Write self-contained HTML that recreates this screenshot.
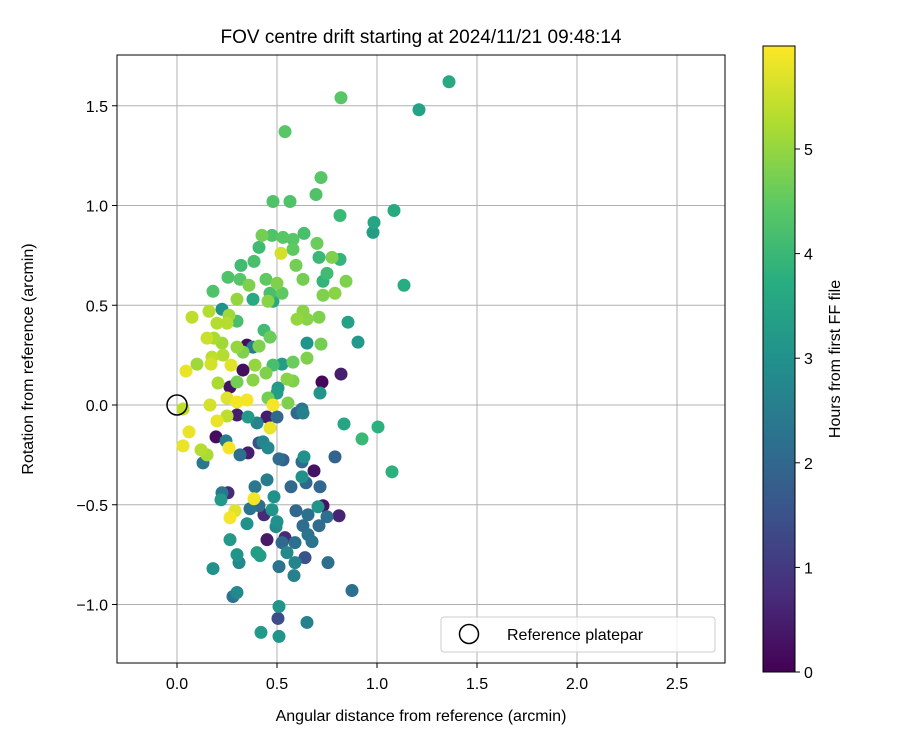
<!DOCTYPE html>
<html><head><meta charset="utf-8"><style>
html,body{margin:0;padding:0;background:#fff;}
svg{display:block;font-family:"Liberation Sans","DejaVu Sans",sans-serif;}
</style></head><body>
<svg id="chart" width="900" height="750" viewBox="0 0 900 750" xmlns="http://www.w3.org/2000/svg">
<defs>
<linearGradient id="vir" x1="0" y1="1" x2="0" y2="0">
<stop offset="0" stop-color="#440154"/><stop offset="0.125" stop-color="#472d7b"/><stop offset="0.25" stop-color="#3b528b"/><stop offset="0.375" stop-color="#2c728e"/><stop offset="0.5" stop-color="#21918c"/><stop offset="0.625" stop-color="#28ae80"/><stop offset="0.75" stop-color="#5ec962"/><stop offset="0.875" stop-color="#addc30"/><stop offset="1" stop-color="#fde725"/>
</linearGradient>
<clipPath id="clip"><rect x="117" y="55" width="608" height="608"/></clipPath>
</defs>
<text x="421" y="43" text-anchor="middle" font-size="19">FOV centre drift starting at 2024/11/21 09:48:14</text>
<g id="grid"></g>
<g id="points" clip-path="url(#clip)"></g>
<circle id="refmark" r="10" fill="none" stroke="#000" stroke-width="1.5"/>
<rect x="117" y="55" width="608" height="608" fill="none" stroke="#000" stroke-width="1"/>
<g id="xticks"></g>
<g id="yticks"></g>
<text x="421" y="721" text-anchor="middle" font-size="16">Angular distance from reference (arcmin)</text>
<text transform="translate(33,359) rotate(-90)" text-anchor="middle" font-size="16">Rotation from reference (arcmin)</text>
<g>
<rect x="441" y="617" width="274" height="35" rx="3" fill="#fff" fill-opacity="0.8" stroke="#ccc"/>
<circle cx="469" cy="634" r="9.5" fill="none" stroke="#000" stroke-width="1.5"/>
<text x="507" y="640" font-size="16">Reference platepar</text>
</g>
<rect x="763" y="46" width="32" height="626" fill="url(#vir)" stroke="#000" stroke-width="1"/>
<g id="cticks"></g>
<text transform="translate(840,359) rotate(-90)" text-anchor="middle" font-size="16">Hours from first FF file</text>
</svg>
<script>
const xs=[1.36,1.21,0.82,0.54,0.72,0.695,0.48,0.565,1.085,0.815,0.985,0.98,1.135,0.855,0.905,0.835,1.005,0.925,1.075,0.875,
0.425,0.475,0.53,0.58,0.635,0.41,0.52,0.58,0.70,0.71,0.775,0.815,0.385,0.32,0.595,0.75,0.63,0.73,0.845,0.255,0.315,0.445,0.50,0.36,0.18,0.465,0.525,0.30,0.38,0.455,0.48,0.73,0.79,
0.075,0.16,0.225,0.26,0.30,0.20,0.25,0.60,0.63,0.65,0.71,0.435,0.465,0.15,0.185,0.225,0.41,0.65,0.72,0.35,0.38,0.30,0.33,0.175,0.23,0.10,0.17,0.27,0.33,0.39,0.445,0.48,0.525,0.58,0.65,0.045,0.38,0.30,0.205,0.55,0.58,0.505,0.50,0.82,0.725,0.715,0.265,0.25,0.35,0.30,0.455,0.48,0.555,0.165,0.03,0.625,
0.25,0.20,0.30,0.355,0.40,0.45,0.50,0.465,0.60,0.63,0.06,0.03,0.195,0.245,0.26,0.12,0.15,0.13,0.315,0.355,0.41,0.43,0.455,0.51,0.53,0.625,0.635,0.79,0.685,0.625,0.645,0.715,0.57,0.45,0.39,0.255,0.225,0.22,0.385,0.485,0.29,0.265,0.365,0.41,0.435,0.475,0.35,0.50,0.495,0.595,0.655,0.73,0.705,0.75,0.81,0.63,0.71,0.655,0.675,0.59,0.525,0.54,0.45,0.55,0.64,0.59,0.585,0.755,0.51,0.265,0.40,0.415,0.30,0.31,0.18,0.30,0.28,0.51,0.505,0.65,0.42,0.51];
const ys=[1.62,1.48,1.54,1.37,1.14,1.055,1.02,1.02,0.975,0.95,0.915,0.865,0.60,0.415,0.315,-0.095,-0.11,-0.17,-0.335,-0.93,
0.85,0.85,0.84,0.83,0.86,0.79,0.76,0.78,0.81,0.74,0.74,0.73,0.72,0.70,0.70,0.66,0.63,0.62,0.62,0.64,0.63,0.63,0.61,0.60,0.57,0.56,0.56,0.53,0.53,0.52,0.52,0.55,0.56,
0.44,0.47,0.48,0.45,0.42,0.41,0.41,0.43,0.47,0.43,0.44,0.375,0.34,0.335,0.335,0.31,0.295,0.31,0.305,0.30,0.29,0.29,0.265,0.24,0.25,0.205,0.205,0.20,0.175,0.20,0.16,0.20,0.205,0.215,0.235,0.17,0.125,0.115,0.11,0.13,0.12,0.085,0.06,0.155,0.115,0.06,0.09,0.035,0.025,0.015,0.035,0.0,0.01,0.0,-0.02,-0.02,
-0.055,-0.08,-0.05,-0.06,-0.09,-0.06,-0.06,-0.115,-0.04,-0.04,-0.135,-0.205,-0.16,-0.18,-0.215,-0.225,-0.25,-0.29,-0.25,-0.24,-0.19,-0.185,-0.215,-0.27,-0.275,-0.285,-0.26,-0.26,-0.33,-0.36,-0.39,-0.41,-0.41,-0.375,-0.41,-0.44,-0.44,-0.475,-0.47,-0.46,-0.53,-0.565,-0.52,-0.505,-0.55,-0.525,-0.595,-0.585,-0.61,-0.53,-0.55,-0.505,-0.51,-0.56,-0.555,-0.605,-0.605,-0.65,-0.685,-0.69,-0.69,-0.665,-0.675,-0.74,-0.765,-0.79,-0.855,-0.79,-0.81,-0.675,-0.74,-0.755,-0.75,-0.79,-0.82,-0.94,-0.96,-1.01,-1.07,-1.09,-1.14,-1.16];
const hrs=[3.6,3.4,4.4,4.4,4.4,4.3,4.3,4.3,3.6,4.0,3.5,3.3,3.7,3.4,3.2,3.5,3.8,4.0,3.8,2.2,
4.7,4.3,4.4,4.4,4.2,4.1,5.6,4.5,4.6,4.0,4.8,3.9,4.2,4.1,4.7,4.1,4.7,3.9,4.8,4.3,4.4,4.5,4.8,4.8,4.3,4.2,4.5,5.0,3.6,4.9,3.6,4.8,4.9,
5.4,5.3,3.0,5.1,4.2,5.3,5.3,5.0,4.9,4.9,4.8,4.1,4.6,5.5,5.2,5.1,4.8,3.1,4.7,0.2,2.5,5.0,4.8,5.4,5.3,5.1,5.6,5.7,0.2,5.0,4.8,4.2,3.3,4.6,4.8,5.8,4.9,4.7,5.2,4.9,4.8,3.2,3.3,0.5,0.1,3.1,0.3,5.7,5.9,5.9,4.7,5.9,4.8,5.6,5.4,2.3,
5.4,5.8,0.5,3.2,2.7,0.5,2.0,5.8,2.0,2.6,5.8,5.8,0.2,2.5,5.9,5.3,5.2,2.4,2.2,0.5,1.5,2.7,2.8,2.1,1.8,2.1,3.0,1.9,0.3,3.0,2.0,2.0,2.0,2.5,2.4,0.7,2.4,3.2,5.9,3.0,5.7,5.9,2.3,2.1,0.7,3.1,3.0,3.0,2.8,2.0,2.2,0.3,3.1,2.2,0.6,2.1,2.1,2.3,2.3,2.2,2.0,0.7,0.4,2.8,1.5,2.7,2.6,2.2,2.3,3.2,3.3,3.3,3.1,2.8,3.0,2.8,2.3,3.1,1.4,2.6,3.2,3.1];
const xTicks=[0.0,0.5,1.0,1.5,2.0,2.5];
const yTicks=[-1.0,-0.5,0.0,0.5,1.0,1.5];
const cTicks=[0,1,2,3,4,5];
const X=v=>177+v*200, Y=v=>405-v*199.5, C=v=>672-v*104.6;
const stops=[[68,1,84],[71,45,123],[59,82,139],[44,114,142],[33,145,140],[40,174,128],[94,201,98],[173,220,48],[253,231,37]];
function vir(h){let t=Math.max(0,Math.min(1,h/5.985))*8;let i=Math.min(7,Math.floor(t)),f=t-i;const a=stops[i],b=stops[i+1];return `rgb(${a.map((c,k)=>Math.round(c+(b[k]-c)*f)).join(',')})`;}
const NS='http://www.w3.org/2000/svg';
function mk(tag,at,parent){const e=document.createElementNS(NS,tag);for(const k in at)e.setAttribute(k,at[k]);parent.appendChild(e);return e;}
const g=document.getElementById('grid'),xt=document.getElementById('xticks'),yt=document.getElementById('yticks'),ct=document.getElementById('cticks');
xTicks.forEach(v=>{const l=mk('line',{x1:X(v),x2:X(v),y1:55,y2:663,stroke:'#b0b0b0','stroke-width':1},g);


const tk=mk('line',{x1:X(v),x2:X(v),y1:663,y2:668,stroke:'#000'},xt);


const t=mk('text',{x:X(v),y:689,'text-anchor':'middle','font-size':16},xt);t.textContent=v.toFixed(1);

});
yTicks.forEach(v=>{const l=mk('line',{x1:117,x2:725,y1:Y(v),y2:Y(v),stroke:'#b0b0b0','stroke-width':1},g);


const tk=mk('line',{x1:112,x2:117,y1:Y(v),y2:Y(v),stroke:'#000'},yt);


const t=mk('text',{x:108,y:Y(v)+6,'text-anchor':'end','font-size':16},yt);t.textContent=(v<0?'\u2212':'')+Math.abs(v).toFixed(1);

});
cTicks.forEach(v=>{const tk=mk('line',{x1:795,x2:800,y1:C(v),y2:C(v),stroke:'#000'},ct);


const t=mk('text',{x:804,y:C(v)+6,'font-size':16},ct);t.textContent=v;

});
const pg=document.getElementById('points');
const idx=hrs.map((h,i)=>i).sort((a,b)=>hrs[a]-hrs[b]);
idx.forEach(i=>{const c=mk('circle',{cx:X(xs[i]),cy:Y(ys[i]),r:6.5,fill:vir(hrs[i])},pg);

});
const rm=document.getElementById('refmark');rm.setAttribute('cx',X(0));rm.setAttribute('cy',Y(0));
</script>
</body></html>
